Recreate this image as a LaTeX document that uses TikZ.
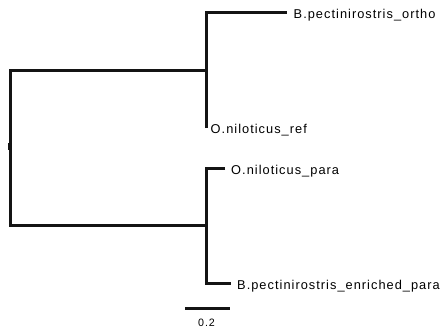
\documentclass[tikz,border=0pt]{standalone}
\usepackage{fontspec}
\setmainfont{Liberation Sans}[LetterSpace=8]
\begin{document}
\begin{tikzpicture}[x=1pt,y=-1pt,
  branch/.style={line width=3pt,draw=black!92},
  leaflab/.style={anchor=base west,inner sep=0pt,font=\fontsize{12.8}{15}\selectfont},
  scalelab/.style={anchor=base,inner sep=0pt,font=\fontsize{10.7}{13}\selectfont}]
\useasboundingbox (0,0) rectangle (443,331);
% internal nodes and leaf ends
\coordinate (r) at (10.5,146.5);
\coordinate (a) at (206,71);
\coordinate (b) at (206,225);
\coordinate (l1) at (287,13);
\coordinate (l2) at (206,128);
\coordinate (l3) at (225,168);
\coordinate (l4) at (231,283);
% branches
\draw[branch] (a) -| (r) |- (b);
\draw[branch,line width=7pt] ([xshift=-2.5pt]r) -- (r);
\draw[branch] (l2) -- (a |- l1) -- (l1);
\draw[branch] (l3) -| (b |- l4) -- (l4);
% labels
\node[leaflab] (t1) at ([xshift=6.5pt,yshift=-6pt]l1) {B.pectinirostris\_ortho};
\node[leaflab] (t2) at ([xshift=4.5pt,yshift=-5.5pt]l2) {O.niloticus\_ref};
\node[leaflab] (t3) at ([xshift=6pt,yshift=-6pt]l3) {O.niloticus\_para};
\node[leaflab] (t4) at ([xshift=6pt,yshift=-6pt]l4) {B.pectinirostris\_enriched\_para};
% scale bar
\coordinate (s1) at (185,308);
\coordinate (s2) at (230,308);
\draw[branch] (s1) -- (s2);
\node[scalelab] (sl) at (206.5,326.7) {0.2};
\end{tikzpicture}
\end{document}
